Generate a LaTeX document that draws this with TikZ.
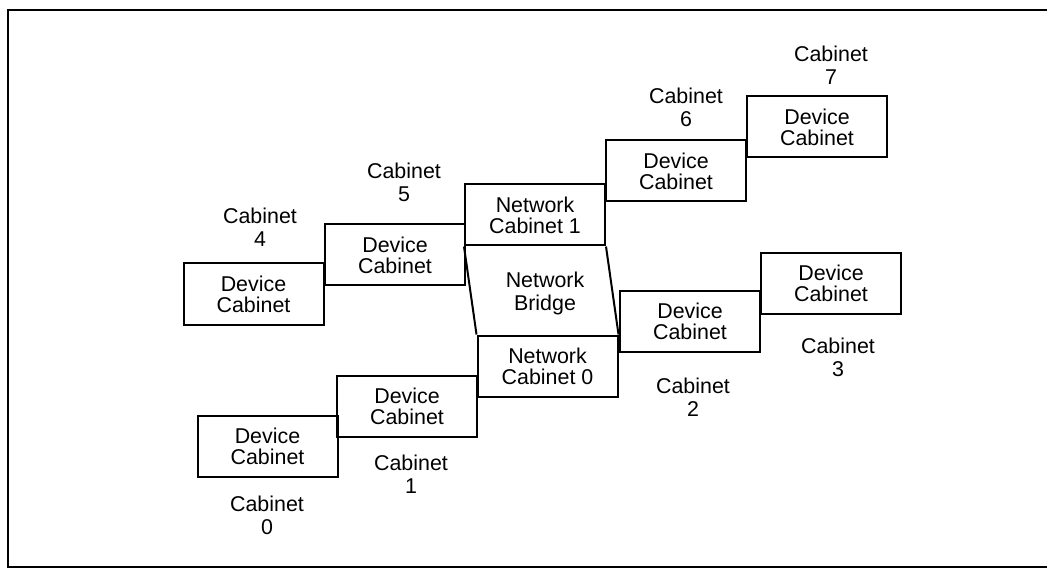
\documentclass[tikz,border=0pt]{standalone}
\usepackage{fontspec}
\setmainfont{Liberation Sans}
\usepackage{tikz}

\begin{document}
\begin{tikzpicture}[x=0.5pt, y=-0.5pt,
	every node/.style={font=\fontsize{10.7}{11.5}\selectfont, align=center, inner sep=0pt},
	cabbox/.style={draw, line width=1pt, minimum width=70pt, minimum height=30.5pt, font=\fontsize{10.7}{10.5}\selectfont}]
	\useasboundingbox (0,0) rectangle (1047,571);
	\draw[line width=1.4pt] (1047,10) -- (8,10) -- (8,567) -- (1047,567);
	\node[cabbox] (dev0) at (267.5,446) {Device\\Cabinet};
	\node[cabbox] (dev1) at (407,406.5) {Device\\Cabinet};
	\node[cabbox] (net0) at (547.5,366) {Network\\Cabinet 0};
	\node[cabbox] (net1) at (535,215) {Network\\Cabinet 1};
	\node[cabbox] (dev2) at (690,321.5) {Device\\Cabinet};
	\node[cabbox] (dev3) at (831,283.5) {Device\\Cabinet};
	\node[cabbox] (dev4) at (253.5,294) {Device\\Cabinet};
	\node[cabbox] (dev5) at (395,255) {Device\\Cabinet};
	\node[cabbox] (dev6) at (676,171) {Device\\Cabinet};
	\node[cabbox] (dev7) at (817,127) {Device\\Cabinet};
	\draw[line width=1pt] (net1.south west) -- (net0.north west);
	\draw[line width=1pt] (net1.south east) -- (net0.north east);
	\node (bridge) at (545,293) {Network\\Bridge};
	\node (lab0) at (267,515) {Cabinet\\0};
	\node (lab1) at (411,474) {Cabinet\\1};
	\node (lab2) at (693,397) {Cabinet\\2};
	\node (lab3) at (838,357) {Cabinet\\3};
	\node (lab4) at (260,227) {Cabinet\\4};
	\node (lab5) at (404,182) {Cabinet\\5};
	\node (lab6) at (686,107) {Cabinet\\6};
	\node (lab7) at (831,65) {Cabinet\\7};
\end{tikzpicture}
\end{document}
